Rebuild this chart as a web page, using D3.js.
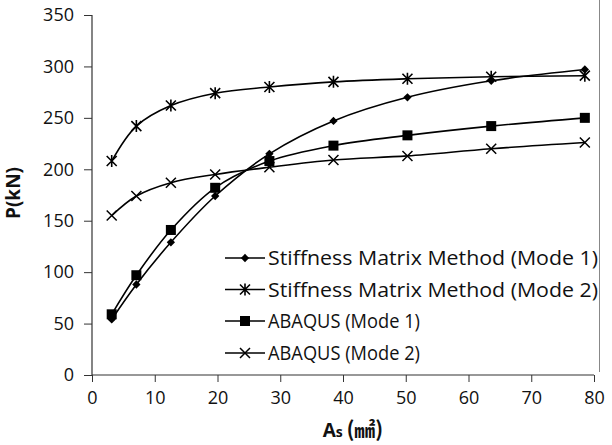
<!DOCTYPE html>
<html><head><meta charset="utf-8">
<script src="https://cdn.jsdelivr.net/npm/d3@7"></script>
<style>body{margin:0;background:#fff}svg{display:block}</style>
</head><body>
<svg id="c" width="612" height="445"></svg>
<script>
const areas = [3.14, 7.07, 12.57, 19.63, 28.27, 38.48, 50.27, 63.62, 78.54];
const smmMode1 = [54, 88, 129, 174, 215, 247, 270, 286, 297];
const smmMode2 = [208, 242, 262, 274, 280, 285, 288, 290, 291];
const abaqusMode1 = [59, 97, 141, 182, 208, 223, 233, 242, 250];
const abaqusMode2 = [155, 174, 187, 195, 202, 209, 213, 220, 226];
const seriesNames = ["Stiffness Matrix Method (Mode 1)", "Stiffness Matrix Method (Mode 2)", "ABAQUS (Mode 1)", "ABAQUS (Mode 2)"];
const markerTypes = ["diamond", "asterisk", "square", "cross"];
const xTicks = [0, 10, 20, 30, 40, 50, 60, 70, 80];
const yTicks = [0, 50, 100, 150, 200, 250, 300, 350];

const series = [smmMode1, smmMode2, abaqusMode1, abaqusMode2].map((v, i) => ({
  name: seriesNames[i], marker: markerTypes[i], pts: v.map((y, j) => [areas[j], y])
}));

const svg = d3.select("#c");
const x = d3.scaleLinear().domain([0, 80]).range([92, 594]);
const y = d3.scaleLinear().domain([0, 350]).range([375, 15]);
const font = "'Open Sans', 'Noto Sans', sans-serif";

// chart border right
svg.append("line").attr("x1", 599.5).attr("x2", 599.5).attr("y1", 0).attr("y2", 372)
  .attr("stroke", "#888").attr("stroke-width", 1);

const xa = svg.append("g").attr("transform", "translate(0,375)")
  .call(d3.axisBottom(x).tickValues(xTicks).tickSize(7).tickPadding(9).tickFormat(d3.format("d")));
const ya = svg.append("g").attr("transform", "translate(92,0)")
  .call(d3.axisLeft(y).tickValues(yTicks).tickSize(8).tickPadding(10).tickFormat(d3.format("d")));
[xa, ya].forEach(a => {
  a.select(".domain").attr("stroke", "#333").attr("stroke-width", 1.2);
  a.selectAll(".tick line").attr("stroke", "#333").attr("stroke-width", 1);
  a.selectAll("text").attr("font-family", font).attr("font-size", 18).attr("fill", "#111");
});
xa.select(".domain").attr("d", "M92,0H594");
ya.select(".domain").attr("d", "M0,375V15");

// titles
svg.append("text").attr("transform", "translate(20,193) rotate(-90)")
  .attr("text-anchor", "middle").attr("font-family", font).attr("font-weight", "bold")
  .attr("font-size", 19).attr("fill", "#111").text("P(kN)");
const xt = svg.append("text").attr("x", 353).attr("y", 437).attr("text-anchor", "middle")
  .attr("font-family", font).attr("font-weight", "bold").attr("font-size", 19).attr("fill", "#111");
xt.append("tspan").text("A");
xt.append("tspan").attr("font-size", 14).text("s ");
xt.append("tspan").attr("font-family", "'Noto Sans CJK KR', 'Noto Sans CJK SC', sans-serif").attr("font-size", 21).text("(㎟)");

const line = d3.line().x(d => x(d[0])).y(d => y(d[1])).curve(d3.curveCatmullRom.alpha(0.5));

function drawMarker(g, type, cx, cy) {
  if (type === "diamond") {
    g.append("path").attr("d", d3.symbol(d3.symbolDiamond2, 44)()).attr("transform", `translate(${cx},${cy})`).attr("fill", "#000");
  } else if (type === "square") {
    g.append("rect").attr("x", cx - 5).attr("y", cy - 5).attr("width", 10).attr("height", 10).attr("fill", "#000");
  } else if (type === "cross") {
    const r = 5;
    g.append("path").attr("d", `M${cx-r},${cy-r}L${cx+r},${cy+r}M${cx-r},${cy+r}L${cx+r},${cy-r}`)
      .attr("stroke", "#000").attr("stroke-width", 1.5).attr("fill", "none");
  } else {
    const r = 5;
    g.append("path").attr("d", `M${cx-r},${cy-r}L${cx+r},${cy+r}M${cx-r},${cy+r}L${cx+r},${cy-r}M${cx},${cy-r-1}L${cx},${cy+r+1}`)
      .attr("stroke", "#000").attr("stroke-width", 1.6).attr("fill", "none");
  }
}

const plot = svg.append("g");
series.forEach(s => {
  plot.append("path").attr("d", line(s.pts)).attr("fill", "none").attr("stroke", "#000").attr("stroke-width", 1.6);
});
series.forEach(s => {
  s.pts.forEach(p => drawMarker(plot, s.marker, x(p[0]), y(p[1])));
});

// legend
const lg = svg.append("g");
const rowsY = [258, 289.5, 321, 353];
const legendWidths = [330, 330, 152, 152];
series.forEach((s, i) => {
  const yy = rowsY[i];
  lg.append("line").attr("x1", 225).attr("x2", 265).attr("y1", yy).attr("y2", yy).attr("stroke", "#000").attr("stroke-width", 1.6);
  drawMarker(lg, s.marker, 245, yy);
  lg.append("text").attr("x", 268).attr("y", yy + 7).attr("font-family", font).attr("font-size", 20)
    .attr("textLength", legendWidths[i]).attr("lengthAdjust", "spacingAndGlyphs")
    .attr("fill", "#111").text(s.name);
});
</script>
</body></html>
